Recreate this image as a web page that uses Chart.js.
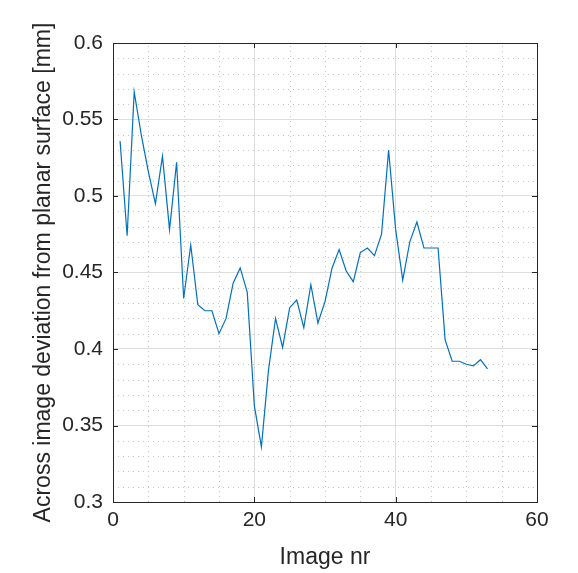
<!DOCTYPE html>
<html>
<head>
<meta charset="utf-8">
<script src="https://cdn.jsdelivr.net/npm/chart.js@4.4.1/dist/chart.umd.min.js"></script>
<style>
  html, body { margin: 0; padding: 0; background: #fff; }
  #wrap { width: 578px; height: 573px; position: relative; }
</style>
</head>
<body>
<div id="wrap"><canvas id="myChart"></canvas></div>
<script>
const imageNr = [1, 2, 3, 4, 5, 6, 7, 8, 9, 10, 11, 12, 13, 14, 15, 16, 17, 18, 19, 20,
    21, 22, 23, 24, 25, 26, 27, 28, 29, 30, 31, 32, 33, 34, 35, 36, 37, 38, 39, 40,
    41, 42, 43, 44, 45, 46, 47, 48, 49, 50, 51, 52, 53];
const deviation = [0.536, 0.474, 0.568, 0.540, 0.516, 0.495, 0.526, 0.478, 0.522, 0.433,
    0.468, 0.429, 0.425, 0.425, 0.410, 0.420, 0.443, 0.453, 0.437, 0.363,
    0.336, 0.386, 0.420, 0.401, 0.427, 0.432, 0.414, 0.442, 0.417, 0.431,
    0.453, 0.465, 0.451, 0.444, 0.463, 0.466, 0.461, 0.475, 0.530, 0.478,
    0.445, 0.470, 0.483, 0.466, 0.466, 0.466, 0.406, 0.392, 0.392, 0.390,
    0.389, 0.393, 0.387];
const xTicks = [0, 20, 40, 60];
const xTickLabels = ['0', '20', '40', '60'];
const yTicks = [0.3, 0.35, 0.4, 0.45, 0.5, 0.55, 0.6];
const yTickLabels = ['0.3', '0.35', '0.4', '0.45', '0.5', '0.55', '0.6'];

const axisColor = '#262626';
const fontFamily = '"Liberation Sans", Arial, Helvetica, sans-serif';

// MATLAB-like box, inward ticks and dotted minor grid
const matlabAxes = {
    id: 'matlabAxes',
    beforeDatasetsDraw(chart) {
        const ctx = chart.ctx;
        const a = chart.chartArea;
        const xs = chart.scales.x, ys = chart.scales.y;
        ctx.save();
        ctx.strokeStyle = '#c4c4c4';
        ctx.lineWidth = 1;
        ctx.setLineDash([1, 4]);
        for (let v = 5; v < 60; v += 5) {
            if (v % 20 === 0) continue;
            const px = Math.round(xs.getPixelForValue(v)) + 0.5;
            ctx.beginPath();
            ctx.moveTo(px, a.bottom);
            ctx.lineTo(px, a.top);
            ctx.stroke();
        }
        for (let i = 31; i < 60; i++) {
            if (i % 5 === 0) continue;
            const py = Math.round(ys.getPixelForValue(i / 100)) + 0.5;
            ctx.beginPath();
            ctx.moveTo(a.left, py);
            ctx.lineTo(a.right, py);
            ctx.stroke();
        }
        ctx.restore();
    },
    afterDatasetsDraw(chart) {
        const ctx = chart.ctx;
        const a = chart.chartArea;
        const xs = chart.scales.x, ys = chart.scales.y;
        const tl = 5;
        ctx.save();
        ctx.strokeStyle = axisColor;
        ctx.lineWidth = 1;
        ctx.beginPath();
        xTicks.forEach(v => {
            const px = Math.round(xs.getPixelForValue(v)) + 0.5;
            ctx.moveTo(px, a.bottom); ctx.lineTo(px, a.bottom - tl);
            ctx.moveTo(px, a.top); ctx.lineTo(px, a.top + tl);
        });
        yTicks.forEach(v => {
            const py = Math.round(ys.getPixelForValue(v)) + 0.5;
            ctx.moveTo(a.left, py); ctx.lineTo(a.left + tl, py);
            ctx.moveTo(a.right, py); ctx.lineTo(a.right - tl, py);
        });
        ctx.stroke();
        ctx.strokeRect(Math.round(a.left) + 0.5, Math.round(a.top) + 0.5,
            Math.round(a.right - a.left), Math.round(a.bottom - a.top));
        ctx.restore();
    }
};

new Chart(document.getElementById('myChart'), {
    type: 'line',
    data: {
        labels: imageNr,
        datasets: [{
            data: imageNr.map((n, i) => ({ x: n, y: deviation[i] })),
            borderColor: '#0072BD',
            borderWidth: 1.2,
            pointRadius: 0,
            fill: false,
            tension: 0
        }]
    },
    options: {
        responsive: true,
        maintainAspectRatio: false,
        animation: false,
        layout: { padding: { top: 43, right: 41, left: 0, bottom: 0 } },
        plugins: {
            legend: { display: false },
            tooltip: { enabled: false }
        },
        scales: {
            x: {
                type: 'linear',
                min: 0,
                max: 60,
                afterBuildTicks: s => { s.ticks = xTicks.map(v => ({ value: v })); },
                afterFit: s => { s.height = 71; },
                grid: { color: '#dedede', drawTicks: false },
                border: { display: false },
                ticks: {
                    color: axisColor,
                    padding: 6,
                    maxRotation: 0,
                    font: { family: fontFamily, size: 21 },
                    callback: (v, i) => xTickLabels[i]
                },
                title: {
                    display: true,
                    text: 'Image nr',
                    color: axisColor,
                    padding: { top: 0, bottom: 2 },
                    font: { family: fontFamily, size: 23 }
                }
            },
            y: {
                type: 'linear',
                min: 0.3,
                max: 0.6,
                afterBuildTicks: s => { s.ticks = yTicks.map(v => ({ value: v })); },
                afterFit: s => { s.width = 113; },
                grid: { color: '#dedede', drawTicks: false },
                border: { display: false },
                ticks: {
                    color: axisColor,
                    padding: 10,
                    font: { family: fontFamily, size: 21 },
                    callback: (v, i) => yTickLabels[i]
                },
                title: {
                    display: true,
                    text: 'Across image deviation from planar surface [mm]',
                    color: axisColor,
                    padding: { top: 30, bottom: 0 },
                    font: { family: fontFamily, size: 23 }
                }
            }
        }
    },
    plugins: [matlabAxes]
});
</script>
</body>
</html>
